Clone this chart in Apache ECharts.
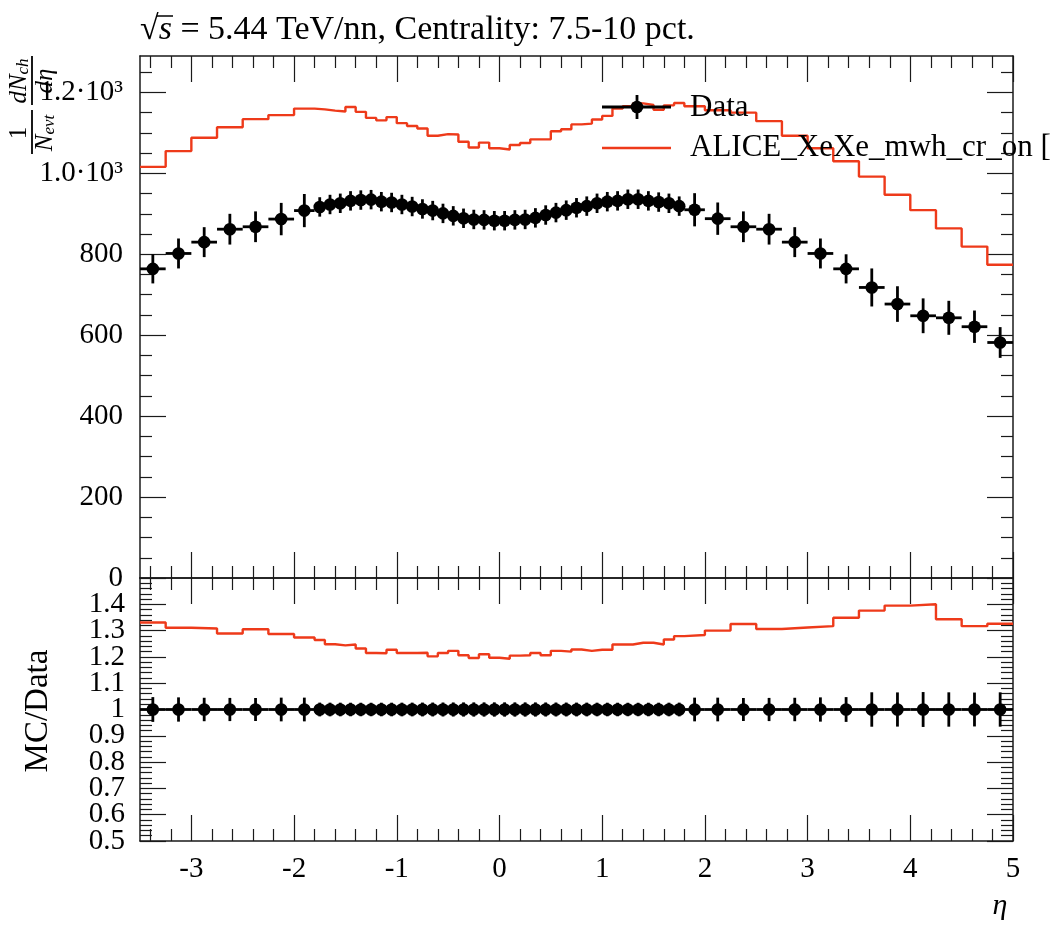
<!DOCTYPE html>
<html>
<head>
<meta charset="utf-8">
<script src="https://cdn.jsdelivr.net/npm/echarts@6/dist/echarts.min.js"></script>
<style>
  html, body { margin: 0; padding: 0; background: #fff; }
  #chart { width: 1056px; height: 927px; }
</style>
</head>
<body>
<div id="chart"></div>
<script>
// eta bin edges: 57 edges -> 56 bins
const binEdges = [
  -3.5, -3.25, -3.0, -2.75, -2.5, -2.25, -2.0,
  -1.8, -1.7, -1.6, -1.5, -1.4, -1.3, -1.2, -1.1, -1.0, -0.9,
  -0.8, -0.7, -0.6, -0.5, -0.4, -0.3, -0.2, -0.1, 0.0,
  0.1, 0.2, 0.3, 0.4, 0.5, 0.6, 0.7, 0.8, 0.9, 1.0,
  1.1, 1.2, 1.3, 1.4, 1.5, 1.6, 1.7, 1.8,
  2.0, 2.25, 2.5, 2.75, 3.0, 3.25, 3.5, 3.75, 4.0, 4.25, 4.5, 4.75, 5.0
];

// ALICE data, dN/deta
const dataValues = [
  764, 802, 830, 862, 868, 887, 908,
  917, 923, 926, 932, 934, 935, 930, 928, 923, 918,
  912, 908, 901, 895, 889, 886, 885, 883, 883,
  885, 886, 890, 897, 903, 909, 915, 919, 926, 930,
  932, 936, 936, 932, 929, 926, 919,
  910, 888, 868, 862, 830, 802, 764, 718, 677, 648, 643, 621, 582
];
const dataErrors = [
  36, 37, 37, 38, 38, 40, 41,
  24, 24, 24, 24, 24, 24, 24, 24, 24, 24,
  24, 24, 24, 24, 24, 24, 24, 24, 24,
  24, 24, 24, 24, 24, 24, 24, 24, 24, 24,
  24, 24, 24, 24, 24, 24, 24,
  41, 40, 38, 38, 37, 37, 36, 47, 44, 43, 42, 40, 38
];

// MC histogram (ALICE_XeXe_mwh_cr_on)
const mcValues = [
  1016, 1055, 1088, 1114, 1134, 1144, 1160,
  1158, 1155, 1153, 1164, 1152, 1137, 1131, 1139, 1124,
  1117, 1111, 1093, 1097, 1096, 1078, 1064, 1076, 1062,
  1059, 1070, 1075, 1084, 1084, 1104, 1109, 1121, 1123, 1133,
  1142, 1160, 1166, 1173, 1169, 1157, 1168, 1174,
  1166, 1156, 1150, 1129, 1093, 1062, 1030, 992, 947, 909, 864, 819, 774
];

// MC / Data
const ratioValues = [
  1.331, 1.311, 1.308, 1.289, 1.305, 1.287, 1.274,
  1.264, 1.248, 1.244, 1.247, 1.232, 1.215, 1.214, 1.227, 1.215,
  1.215, 1.216, 1.202, 1.215, 1.223, 1.206, 1.196, 1.210, 1.197,
  1.193, 1.205, 1.206, 1.215, 1.206, 1.223, 1.220, 1.228, 1.223, 1.227,
  1.227, 1.247, 1.247, 1.254, 1.254, 1.247, 1.266, 1.279,
  1.283, 1.300, 1.325, 1.306, 1.312, 1.317, 1.349, 1.376, 1.395, 1.400, 1.343, 1.317, 1.326
];

const xMajorTicks = [-3, -2, -1, 0, 1, 2, 3, 4, 5];
const xTickLabels = ['-3', '-2', '-1', '0', '1', '2', '3', '4', '5'];
const yMainTicks = [0, 200, 400, 600, 800, 1000, 1200];
const yMainLabels = ['0', '200', '400', '600', '800', '1.0·10³', '1.2·10³'];
const yRatioTicks = [0.5, 0.6, 0.7, 0.8, 0.9, 1.0, 1.1, 1.2, 1.3, 1.4];
const yRatioLabels = ['0.5', '0.6', '0.7', '0.8', '0.9', '1', '1.1', '1.2', '1.3', '1.4'];

const FONT = '"Liberation Serif", "DejaVu Serif", serif';
const INK = '#1a1a1a';
const RED = '#ee3a1a';
const X_MIN = -3.5, X_MAX = 5;
const Y_MAX = 1290;

// minor tick positions (every step, skipping the majors)
function minorTicks(from, to, step, majors) {
  const out = [];
  const n = Math.round((to - from) / step);
  for (let i = 0; i <= n; i++) {
    const v = Math.round((from + i * step) * 1000) / 1000;
    if (!majors.some(m => Math.abs(m - v) < 1e-6)) out.push(v);
  }
  return out;
}
const xMinor = minorTicks(-3.4, 4.8, 0.2, xMajorTicks);
const yMainMinor = minorTicks(50, 1250, 50, yMainTicks);
const yRatioMinor = minorTicks(0.52, 1.48, 0.02, yRatioTicks.concat([1.5]));

function labelFor(ticks, labels) {
  return v => {
    const i = ticks.findIndex(t => Math.abs(t - v) < 1e-6);
    return i < 0 ? '' : labels[i];
  };
}

function labelStyle(values, ticks, labels, margin) {
  return {
    show: true, customValues: values, formatter: labelFor(ticks, labels),
    showMinLabel: true, showMaxLabel: true, hideOverlap: false,
    fontFamily: FONT, fontSize: 29, color: '#000', margin
  };
}

// one major + one minor axis on a given side of a grid
function sideAxes(gridIndex, min, max, pos, majors, minors, labels, labelMargin) {
  const base = {
    type: 'value', gridIndex, min, max, position: pos,
    splitLine: { show: false }, axisPointer: { show: false }
  };
  const tickStyle = { color: INK, width: 1.2 };
  const major = Object.assign({}, base, {
    axisLine: { show: true, onZero: false, lineStyle: { color: INK, width: 1.5 } },
    axisTick: { show: true, inside: true, length: 26, customValues: majors, lineStyle: tickStyle },
    axisLabel: labels ? labelStyle(majors, majors, labels, labelMargin) : { show: false }
  });
  const minor = Object.assign({}, base, {
    axisLine: { show: false, onZero: false },
    axisTick: { show: true, inside: true, length: 12, customValues: minors, lineStyle: tickStyle },
    axisLabel: { show: false }
  });
  return [major, minor];
}

// axis carrying only labels (used to keep close ratio labels from hiding each other)
function labelAxis(gridIndex, min, max, pos, values, ticks, labels, margin) {
  return {
    type: 'value', gridIndex, min, max, position: pos,
    splitLine: { show: false }, axisPointer: { show: false },
    axisLine: { show: false, onZero: false }, axisTick: { show: false },
    axisLabel: labelStyle(values, ticks, labels, margin)
  };
}

const ratioEven = yRatioTicks.filter((v, i) => i % 2 === 0);
const ratioOdd = yRatioTicks.filter((v, i) => i % 2 === 1);

const xAxes = [].concat(
  sideAxes(0, X_MIN, X_MAX, 'bottom', xMajorTicks, xMinor, null),
  sideAxes(0, X_MIN, X_MAX, 'top', xMajorTicks, xMinor, null),
  sideAxes(1, X_MIN, X_MAX, 'bottom', xMajorTicks, xMinor, xTickLabels, 14),
  sideAxes(1, X_MIN, X_MAX, 'top', xMajorTicks, xMinor, null)
);
const ratioLeft = sideAxes(1, 0.5, 1.5, 'left', yRatioTicks, yRatioMinor, null);
ratioLeft[0].axisLabel = labelStyle(ratioEven, yRatioTicks, yRatioLabels, 15);
const yAxes = [].concat(
  sideAxes(0, 0, Y_MAX, 'left', yMainTicks, yMainMinor, yMainLabels, 17),
  sideAxes(0, 0, Y_MAX, 'right', yMainTicks, yMainMinor, null),
  ratioLeft,
  sideAxes(1, 0.5, 1.5, 'right', yRatioTicks, yRatioMinor, null),
  [labelAxis(1, 0.5, 1.5, 'left', ratioOdd, yRatioTicks, yRatioLabels, 15)]
);

// histogram as step line through bin low edges, closed at the last high edge
function stepPoints(values) {
  const pts = values.map((v, i) => [binEdges[i], v]);
  pts.push([binEdges[binEdges.length - 1], values[values.length - 1]]);
  return pts;
}

function errorItems(vals, errs) {
  return vals.map((v, i) => {
    const lo = binEdges[i], hi = binEdges[i + 1];
    return [(lo + hi) / 2, v, lo, hi, errs[i]];
  });
}

function errorSeries(xi, yi, items) {
  return {
    type: 'custom', xAxisIndex: xi, yAxisIndex: yi, z: 5,
    encode: { x: 0, y: 1 },
    data: items,
    renderItem(params, api) {
      const xc = api.value(0), y = api.value(1);
      const lo = api.value(2), hi = api.value(3), e = api.value(4);
      const pL = api.coord([lo, y]), pR = api.coord([hi, y]);
      const pT = api.coord([xc, y + e]), pB = api.coord([xc, y - e]);
      const st = { stroke: '#000', lineWidth: 2.8 };
      return {
        type: 'group',
        children: [
          { type: 'line', shape: { x1: pL[0], y1: pL[1], x2: pR[0], y2: pR[1] }, style: st },
          { type: 'line', shape: { x1: pT[0], y1: pT[1], x2: pB[0], y2: pB[1] }, style: st },
          { type: 'circle', shape: { cx: pL[0] + (pR[0] - pL[0]) / 2, cy: pL[1], r: 6.3 }, style: { fill: '#000' } }
        ]
      };
    }
  };
}

const ratioErrors = dataErrors.map((e, i) => e / dataValues[i]);
const ones = dataValues.map(() => 1);

const italic = { fontFamily: FONT, fontStyle: 'italic', fontSize: 25, lineHeight: 26 };
const sub = { fontFamily: FONT, fontStyle: 'italic', fontSize: 17, lineHeight: 26, verticalAlign: 'bottom', padding: [10, 0, 0, 0] };

const chart = echarts.init(document.getElementById('chart'), null, { renderer: 'canvas' });
chart.setOption({
  animation: false,
  backgroundColor: '#fff',
  grid: [
    { left: 140, top: 56, width: 873, height: 522 },
    { left: 140, top: 578, width: 873, height: 263 }
  ],
  xAxis: xAxes,
  yAxis: yAxes,
  series: [
    {
      type: 'line', xAxisIndex: 0, yAxisIndex: 0, step: 'end', showSymbol: false,
      data: stepPoints(mcValues), lineStyle: { color: RED, width: 2.4 }, z: 3
    },
    errorSeries(0, 0, errorItems(dataValues, dataErrors)),
    {
      type: 'line', xAxisIndex: 4, yAxisIndex: 4, step: 'end', showSymbol: false,
      data: stepPoints(ratioValues), lineStyle: { color: RED, width: 2.4 }, z: 3
    },
    errorSeries(4, 4, errorItems(ones, ratioErrors))
  ],
  graphic: [
    // title
    {
      type: 'text', left: 140, top: 13,
      style: {
        text: '{r|√}{s|s}{n| = 5.44 TeV/nn, Centrality: 7.5-10 pct.}',
        rich: {
          r: { fontFamily: FONT, fontSize: 34 },
          s: { fontFamily: FONT, fontSize: 34, fontStyle: 'italic' },
          n: { fontFamily: FONT, fontSize: 34 }
        },
        fill: '#000'
      }
    },
    // overbar of the square root
    { type: 'line', shape: { x1: 157, y1: 16, x2: 173, y2: 16 }, style: { stroke: '#000', lineWidth: 1.5 } },
    // main y-axis title: 1/N_evt dN_ch/deta (rotated)
    {
      type: 'group', x: 32, y: 154, rotation: Math.PI / 2,
      children: [
        { type: 'text', style: { text: '1', x: 21, y: -13, align: 'center', verticalAlign: 'middle', fontFamily: FONT, fontSize: 25, fill: '#000' } },
        { type: 'line', shape: { x1: 0, y1: 0, x2: 44, y2: 0 }, style: { stroke: '#000', lineWidth: 1.8 } },
        { type: 'text', style: { text: '{i|N}{b|evt}', rich: { i: italic, b: sub }, x: 21, y: 13, align: 'center', verticalAlign: 'middle', fill: '#000' } },
        { type: 'text', style: { text: '{i|dN}{b|ch}', rich: { i: italic, b: sub }, x: 73, y: -13, align: 'center', verticalAlign: 'middle', fill: '#000' } },
        { type: 'line', shape: { x1: 49, y1: 0, x2: 98, y2: 0 }, style: { stroke: '#000', lineWidth: 1.8 } },
        { type: 'text', style: { text: 'dη', x: 73, y: 13, align: 'center', verticalAlign: 'middle', fontFamily: FONT, fontStyle: 'italic', fontSize: 25, fill: '#000' } }
      ]
    },
    // ratio y-axis title
    {
      type: 'text', x: 38, y: 711, rotation: Math.PI / 2,
      style: { text: 'MC/Data', align: 'center', verticalAlign: 'middle', fontFamily: FONT, fontSize: 33, fill: '#000' }
    },
    // x-axis title
    {
      type: 'text', x: 1000, y: 906,
      style: { text: 'η', align: 'center', verticalAlign: 'middle', fontFamily: FONT, fontStyle: 'italic', fontSize: 30, fill: '#000' }
    },
    // legend
    { type: 'line', shape: { x1: 602, y1: 107, x2: 671, y2: 107 }, style: { stroke: '#000', lineWidth: 2.8 }, z: 10 },
    { type: 'line', shape: { x1: 637, y1: 95, x2: 637, y2: 119 }, style: { stroke: '#000', lineWidth: 2.8 }, z: 10 },
    { type: 'circle', shape: { cx: 637, cy: 107, r: 6.3 }, style: { fill: '#000' }, z: 10 },
    {
      type: 'text', x: 690, y: 108, z: 10,
      style: { text: 'Data', verticalAlign: 'middle', fontFamily: FONT, fontSize: 31, fill: '#000' }
    },
    { type: 'line', shape: { x1: 602, y1: 148, x2: 671, y2: 148 }, style: { stroke: RED, lineWidth: 2.4 }, z: 10 },
    {
      type: 'text', x: 690, y: 148, z: 10,
      style: { text: 'ALICE_XeXe_mwh_cr_on [', verticalAlign: 'middle', fontFamily: FONT, fontSize: 31, fill: '#000' }
    }
  ]
});
</script>
</body>
</html>
